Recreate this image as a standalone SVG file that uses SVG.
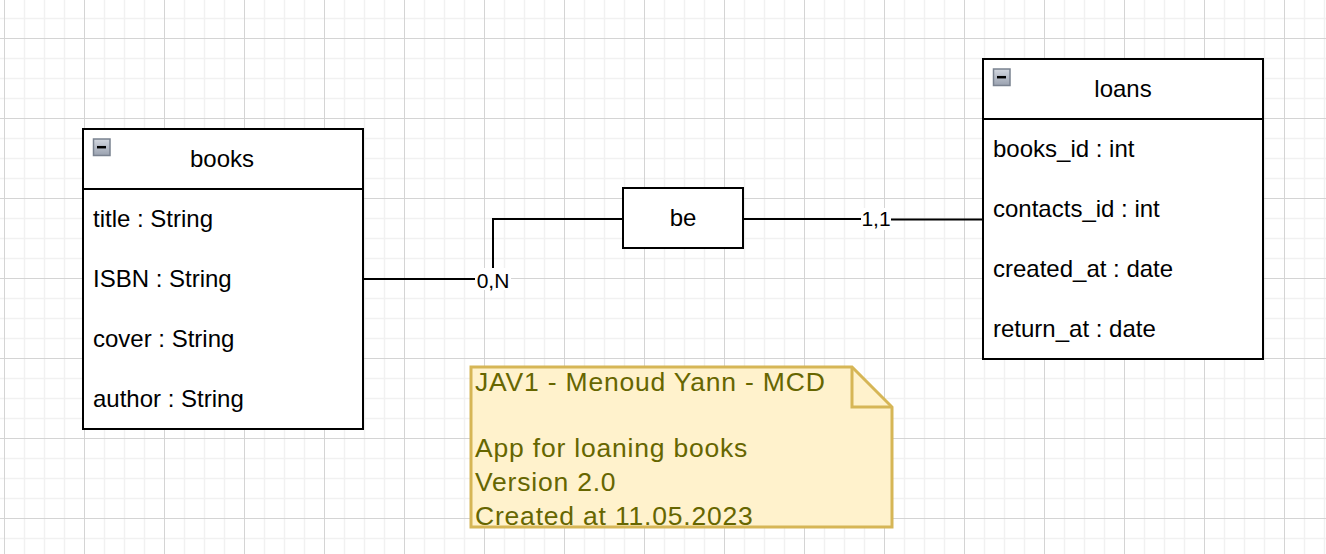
<svg xmlns="http://www.w3.org/2000/svg" width="1326" height="554" viewBox="0 0 1326 554">
  <style>
    .box { fill: #ffffff; stroke: #000000; stroke-width: 2; }
    .sep { stroke: #000000; stroke-width: 2; }
    .txt { font-family: "Liberation Sans", Arial, sans-serif; font-size: 24px; fill: #000000; }
    .hdr { text-anchor: middle; }
    .lbl { font-family: "Liberation Sans", Arial, sans-serif; font-size: 21px; fill: #000000; text-anchor: middle; }
    .edge { fill: none; stroke: #000000; stroke-width: 2; }
    .notetxt { font-family: "Liberation Sans", Arial, sans-serif; font-size: 26.5px; letter-spacing: 0.8px; fill: #666600; }
    .icon { fill: url(#iconGrad); stroke: #7a8290; stroke-width: 1.5; }
    .iconbar { stroke: #000000; stroke-width: 2.5; }
  </style>
  <defs>
    <pattern id="grid" x="4" y="38" width="80" height="80" patternUnits="userSpaceOnUse">
      <path d="M20.5,0 V80 M40.5,0 V80 M60.5,0 V80 M0,20.5 H80 M0,40.5 H80 M0,60.5 H80" stroke="#f1f1f1" stroke-width="1.5" fill="none"/>
      <path d="M0.5,0 V80 M0,0.5 H80" stroke="#d4d4d4" stroke-width="1" fill="none"/>
    </pattern>
    <linearGradient id="iconGrad" x1="0" y1="0" x2="0" y2="1">
      <stop offset="0" stop-color="#d4d8e0"/>
      <stop offset="1" stop-color="#9aa2b0"/>
    </linearGradient>
  </defs>
  <rect x="0" y="0" width="1326" height="554" fill="#ffffff"/>
  <rect x="0" y="0" width="1326" height="554" fill="url(#grid)"/>

  <g id="connectors">
    <path class="edge" d="M363,279 H493 V219 H623"/>
    <path class="edge" d="M743,219 H876 M876,219.5 H983"/>
    <rect x="475" y="268" width="36" height="22" fill="#ffffff"/>
    <text class="lbl" x="493" y="288">0,N</text>
    <rect x="861" y="208" width="30" height="22" fill="#ffffff"/>
    <text class="lbl" x="876" y="225.5">1,1</text>
  </g>

  <g id="books">
    <rect class="box" x="83" y="129" width="280" height="300"/>
    <line class="sep" x1="83" y1="189" x2="363" y2="189"/>
    <rect class="icon" x="93.5" y="139" width="16.5" height="16.5"/>
    <line class="iconbar" x1="97" y1="147.2" x2="106" y2="147.2"/>
    <text class="txt hdr" x="222" y="167">books</text>
    <text class="txt" x="93" y="227">title : String</text>
    <text class="txt" x="93" y="287">ISBN : String</text>
    <text class="txt" x="93" y="347">cover : String</text>
    <text class="txt" x="93" y="407">author : String</text>
  </g>

  <g id="be">
    <rect class="box" x="623" y="188" width="120" height="60"/>
    <text class="txt hdr" x="683" y="226">be</text>
  </g>

  <g id="loans">
    <rect class="box" x="983" y="59" width="280" height="300"/>
    <line class="sep" x1="983" y1="119" x2="1263" y2="119"/>
    <rect class="icon" x="993.5" y="69" width="16.5" height="16.5"/>
    <line class="iconbar" x1="997" y1="77.2" x2="1006" y2="77.2"/>
    <text class="txt hdr" x="1123" y="97">loans</text>
    <text class="txt" x="993" y="157">books_id : int</text>
    <text class="txt" x="993" y="217">contacts_id : int</text>
    <text class="txt" x="993" y="277">created_at : date</text>
    <text class="txt" x="993" y="337">return_at : date</text>
  </g>

  <g id="note">
    <path d="M471,367 H852 L892,407 V527 H471 Z" fill="#fff2cc" stroke="#d6b656" stroke-width="3"/>
    <path d="M852,367 V407 H892" fill="none" stroke="#d6b656" stroke-width="3"/>
    <text class="notetxt" x="475" y="390.5">JAV1 - Menoud Yann - MCD</text>
    <text class="notetxt" x="475" y="457">App for loaning books</text>
    <text class="notetxt" x="475" y="491">Version 2.0</text>
    <text class="notetxt" x="475" y="524.5">Created at 11.05.2023</text>
  </g>
</svg>
